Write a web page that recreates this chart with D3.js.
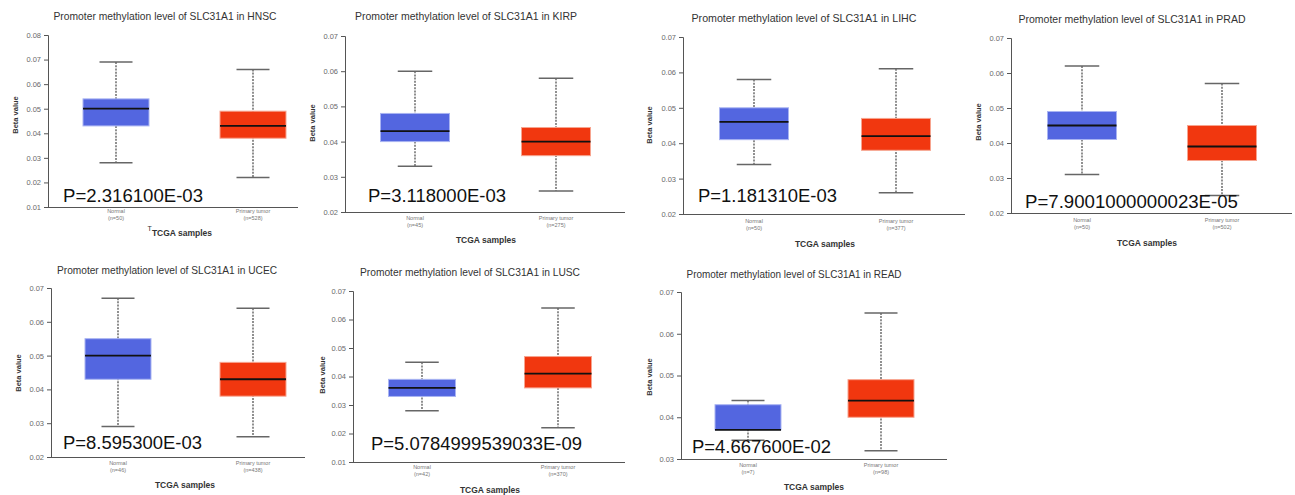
<!DOCTYPE html>
<html>
<head>
<meta charset="utf-8">
<script src="https://cdn.jsdelivr.net/npm/d3@7"></script>
<style>
  body { margin: 0; background: #fff; }
  svg { display: block; }
</style>
</head>
<body>
<div class="chart"></div>
<script>
// data
var cancers = ['HNSC', 'KIRP', 'LIHC', 'PRAD', 'UCEC', 'LUSC', 'READ'];
var groups = ['Normal', 'Primary tumor'];
var normalN = [50, 45, 50, 50, 46, 42, 7];
var tumorN = [528, 275, 377, 502, 438, 370, 98];
// [low whisker, q1, median, q3, high whisker]
var normalBox = [
    [0.028, 0.043, 0.050, 0.054, 0.069],
    [0.033, 0.040, 0.043, 0.048, 0.060],
    [0.034, 0.041, 0.046, 0.050, 0.058],
    [0.031, 0.041, 0.045, 0.049, 0.062],
    [0.029, 0.043, 0.050, 0.055, 0.067],
    [0.028, 0.033, 0.036, 0.039, 0.045],
    [0.0345, 0.037, 0.037, 0.043, 0.044]
];
var tumorBox = [
    [0.022, 0.038, 0.043, 0.049, 0.066],
    [0.026, 0.036, 0.040, 0.044, 0.058],
    [0.026, 0.038, 0.042, 0.047, 0.061],
    [0.025, 0.035, 0.039, 0.045, 0.057],
    [0.026, 0.038, 0.043, 0.048, 0.064],
    [0.022, 0.036, 0.041, 0.047, 0.064],
    [0.032, 0.040, 0.044, 0.049, 0.065]
];
var pValues = ['2.316100E-03', '3.118000E-03', '1.181310E-03', '7.9001000000023E-05',
    '8.595300E-03', '5.0784999539033E-09', '4.667600E-02'];
var yTicks = [
    [0.01, 0.02, 0.03, 0.04, 0.05, 0.06, 0.07, 0.08],
    [0.02, 0.03, 0.04, 0.05, 0.06, 0.07],
    [0.02, 0.03, 0.04, 0.05, 0.06, 0.07],
    [0.02, 0.03, 0.04, 0.05, 0.06, 0.07],
    [0.02, 0.03, 0.04, 0.05, 0.06, 0.07],
    [0.01, 0.02, 0.03, 0.04, 0.05, 0.06, 0.07],
    [0.03, 0.04, 0.05, 0.06, 0.07]
];

// panel placement (pixels)
var layout = [
    {ax: 48,   ex: 298,  yt: 35,  yb: 207, cx: [116, 253],   bw: 66, tx: 165,  ty: 20,  tw: 223, bx: 15,  by: 115, cy: 213, sx: 182,  sy: 236, px: 63,   py: 202, pw: 140},
    {ax: 345,  ex: 625,  yt: 36,  yb: 212, cx: [415, 556],   bw: 69, tx: 466,  ty: 20,  tw: 222, bx: 312, by: 123, cy: 220, sx: 486,  sy: 243, px: 368,  py: 202, pw: 138},
    {ax: 683,  ex: 965,  yt: 37,  yb: 214, cx: [754, 896],   bw: 69, tx: 804,  ty: 22,  tw: 225, bx: 649, by: 125, cy: 223, sx: 825,  sy: 247, px: 698,  py: 202, pw: 139},
    {ax: 1011, ex: 1292, yt: 38,  yb: 213, cx: [1082, 1222], bw: 69, tx: 1132, ty: 23,  tw: 227, bx: 978, by: 122, cy: 222, sx: 1147, sy: 246, px: 1025, py: 208, pw: 213},
    {ax: 51,   ex: 305,  yt: 288, yb: 457, cx: [118, 253],   bw: 66, tx: 167,  ty: 274, tw: 220, bx: 18,  by: 373, cy: 465, sx: 185,  sy: 488, px: 63,   py: 449, pw: 139},
    {ax: 353,  ex: 625,  yt: 291, yb: 462, cx: [422, 558],   bw: 67, tx: 470,  ty: 276, tw: 220, bx: 322, by: 375, cy: 469, sx: 490,  sy: 493, px: 371,  py: 450, pw: 211},
    {ax: 681,  ex: 947,  yt: 292, yb: 459, cx: [748, 881],   bw: 66, tx: 794,  ty: 278, tw: 215, bx: 649, by: 377, cy: 467, sx: 814,  sy: 490, px: 692,  py: 453, pw: 139}
];

var fills = ['#5366e0', '#f1370f'];
var edges = ['#a9b4f2', '#f7a48f'];

var svg = d3.select('.chart')
    .append('svg')
    .attr('width', 1295)
    .attr('height', 495);

svg.append('rect')
    .attr('width', 1295)
    .attr('height', 495)
    .attr('fill', '#fff');

cancers.forEach(function (cancer, i) {
    var L = layout[i];
    var ticks = yTicks[i];
    var g = svg.append('g');

    var y = d3.scaleLinear()
        .domain([ticks[0], ticks[ticks.length - 1]])
        .range([L.yb, L.yt]);

    var x = d3.scalePoint()
        .domain(groups)
        .range(L.cx);

    // title
    g.append('text')
        .attr('x', L.tx)
        .attr('y', L.ty)
        .attr('text-anchor', 'middle')
        .attr('textLength', L.tw)
        .attr('lengthAdjust', 'spacingAndGlyphs')
        .style('font', '10.5px "Liberation Sans", Arial, sans-serif')
        .style('fill', '#333')
        .text('Promoter methylation level of SLC31A1 in ' + cancer);

    // y axis
    var yAxis = g.append('g')
        .attr('transform', 'translate(' + L.ax + ',0)')
        .call(d3.axisLeft(y)
            .tickValues(ticks)
            .tickSize(4)
            .tickPadding(3)
            .tickFormat(d3.format('.2f')));
    yAxis.select('.domain').attr('stroke', '#555');
    yAxis.selectAll('.tick line').attr('stroke', '#555');
    yAxis.selectAll('.tick text')
        .style('font', '7.5px "Liberation Sans", Arial, sans-serif')
        .style('fill', '#6a6a6a');

    // bottom axis line
    g.append('line')
        .attr('x1', L.ax)
        .attr('x2', L.ex)
        .attr('y1', L.yb + 0.5)
        .attr('y2', L.yb + 0.5)
        .attr('stroke', '#555');

    // y label
    g.append('text')
        .attr('transform', 'translate(' + L.bx + ',' + L.by + ') rotate(-90)')
        .attr('text-anchor', 'middle')
        .attr('dy', '0.35em')
        .style('font', 'bold 7.5px "Liberation Sans", Arial, sans-serif')
        .style('fill', '#333')
        .text('Beta value');

    // x category labels
    var ns = [normalN[i], tumorN[i]];
    groups.forEach(function (grp, j) {
        var t = g.append('text')
            .attr('x', x(grp))
            .attr('y', L.cy)
            .attr('text-anchor', 'middle')
            .style('font', '5.5px "Liberation Sans", Arial, sans-serif')
            .style('fill', '#777');
        t.append('tspan').attr('x', x(grp)).text(grp);
        t.append('tspan').attr('x', x(grp)).attr('dy', 7).text('(n=' + ns[j] + ')');
    });

    g.append('text')
        .attr('x', L.sx)
        .attr('y', L.sy)
        .attr('text-anchor', 'middle')
        .style('font', 'bold 8.5px "Liberation Sans", Arial, sans-serif')
        .style('fill', '#333')
        .text('TCGA samples');

    // boxes
    var stats = [normalBox[i], tumorBox[i]];
    groups.forEach(function (grp, j) {
        var s = stats[j];
        var cx = x(grp);
        var half = L.bw / 2;

        g.append('line')
            .attr('x1', cx).attr('x2', cx)
            .attr('y1', y(s[4])).attr('y2', y(s[0]))
            .attr('stroke', '#555')
            .attr('stroke-width', 1.3)
            .attr('stroke-dasharray', '2,1.2');

        [s[0], s[4]].forEach(function (v) {
            g.append('line')
                .attr('x1', cx - half / 2).attr('x2', cx + half / 2)
                .attr('y1', y(v)).attr('y2', y(v))
                .attr('stroke', '#666')
                .attr('stroke-width', 1.5);
        });

        g.append('rect')
            .attr('x', cx - half)
            .attr('y', y(s[3]))
            .attr('width', L.bw)
            .attr('height', y(s[1]) - y(s[3]))
            .attr('fill', fills[j])
            .attr('stroke', edges[j])
            .attr('stroke-width', 1);

        g.append('line')
            .attr('x1', cx - half).attr('x2', cx + half)
            .attr('y1', y(s[2])).attr('y2', y(s[2]))
            .attr('stroke', '#111')
            .attr('stroke-width', 1.8);
    });

    // p value
    g.append('text')
        .attr('x', L.px)
        .attr('y', L.py)
        .attr('textLength', L.pw)
        .attr('lengthAdjust', 'spacingAndGlyphs')
        .style('font', '18px "Liberation Sans", Arial, sans-serif')
        .style('fill', '#111')
        .text('P=' + pValues[i]);
});

// stray glyph just left of the first x-axis title
svg.append('text')
    .attr('x', 147.5)
    .attr('y', 231)
    .style('font', '7px "Liberation Sans", Arial, sans-serif')
    .style('fill', '#333')
    .text('T');
</script>
</body>
</html>
